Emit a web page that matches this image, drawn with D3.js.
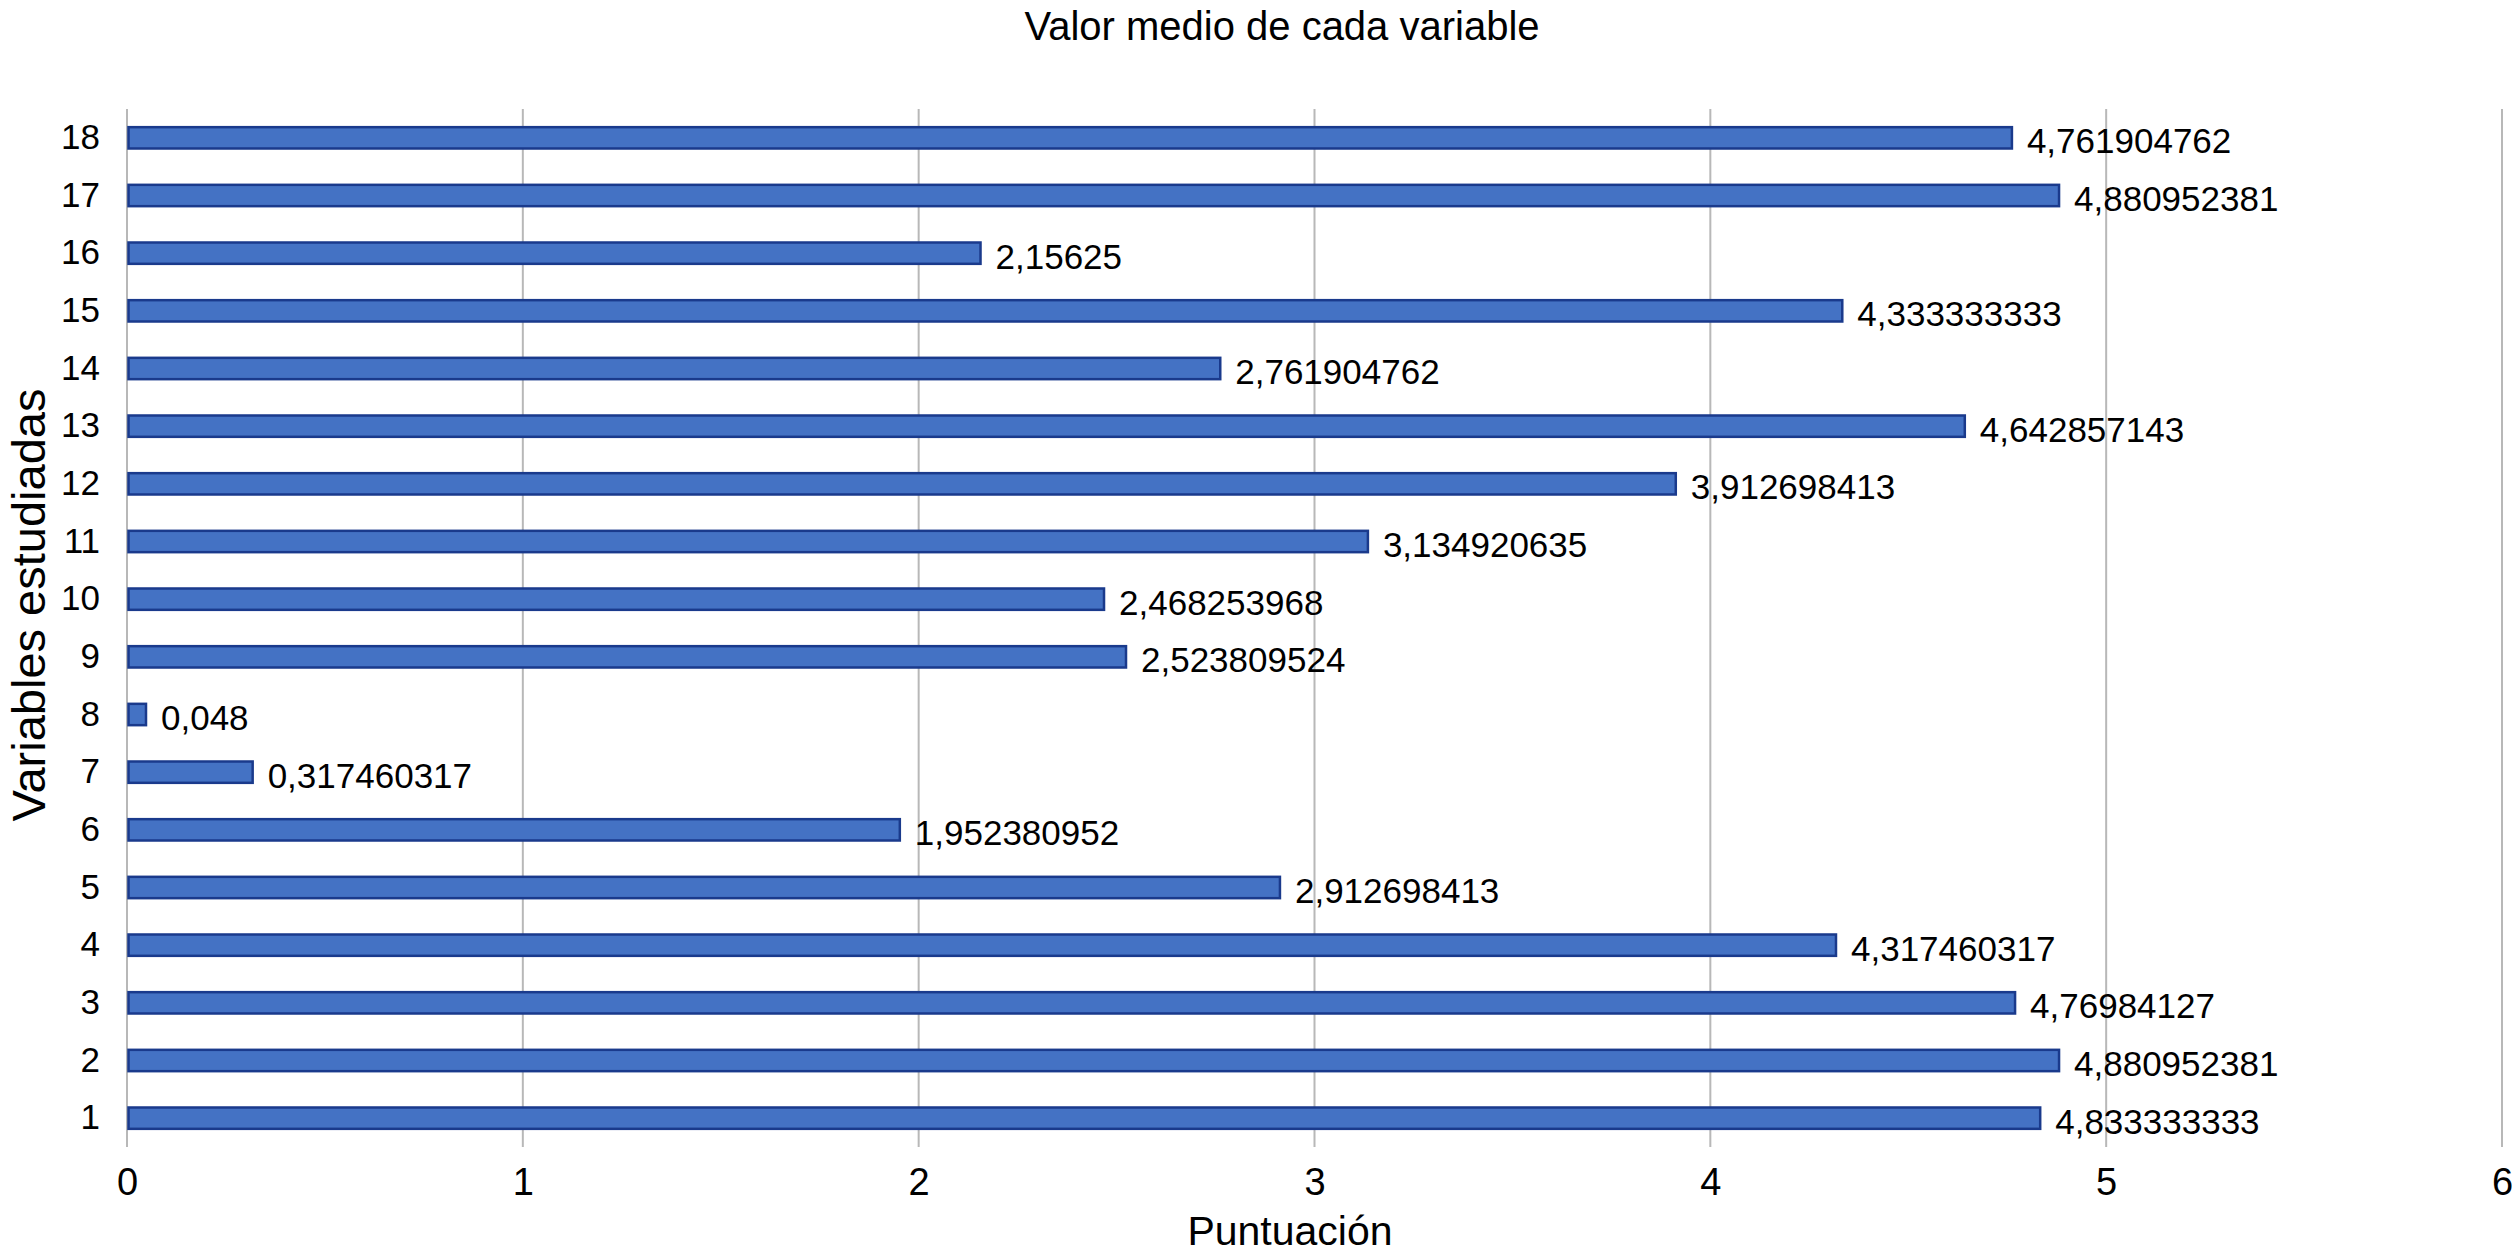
<!DOCTYPE html>
<html>
<head>
<meta charset="utf-8">
<script src="https://cdn.jsdelivr.net/npm/d3@7"></script>
<style>
  body { margin: 0; background: #fff; }
  text { font-family: "Liberation Sans", Arial, sans-serif; fill: #000; }
</style>
</head>
<body>
<script>
// categories (1..18) and mean values
var categories = ["1", "2", "3", "4", "5", "6", "7", "8", "9", "10",
                  "11", "12", "13", "14", "15", "16", "17", "18"];
var values = [4.833333333, 4.880952381, 4.76984127, 4.317460317, 2.912698413,
              1.952380952, 0.317460317, 0.048, 2.523809524, 2.468253968,
              3.134920635, 3.912698413, 4.642857143, 2.761904762, 4.333333333,
              2.15625, 4.880952381, 4.761904762];
var xTicks = [0, 1, 2, 3, 4, 5, 6];

var title = "Valor medio de cada variable";
var xTitle = "Puntuación";
var yTitle = "Variables estudiadas";

function draw() {
    var w = 2512, h = 1254;
    var mLeft = 127, mRight = 2502, mTop = 109, mBottom = 1147;

    var data = categories.map(function (c, i) { return { cat: c, val: values[i] }; });

    var svg = d3.select("body").append("svg")
        .attr("width", w)
        .attr("height", h);

    var x = d3.scaleLinear().domain([0, 6]).range([mLeft, mRight]);

    // 18 at top, 1 at bottom
    var y = d3.scaleBand()
        .domain(categories.slice().reverse())
        .range([mTop, mBottom])
        .paddingInner(0.63)
        .paddingOuter(0.315);

    // vertical grid lines
    svg.append("g")
        .selectAll("line")
        .data(xTicks)
        .enter()
        .append("line")
        .attr("x1", function (d) { return x(d); })
        .attr("x2", function (d) { return x(d); })
        .attr("y1", mTop)
        .attr("y2", mBottom)
        .attr("stroke", "#b8b8b8")
        .attr("stroke-width", 2);

    // bars
    svg.append("g")
        .selectAll("rect")
        .data(data)
        .enter()
        .append("rect")
        .attr("x", x(0) + 1.5)
        .attr("y", function (d) { return y(d.cat); })
        .attr("width", function (d) { return x(d.val) - x(0) - 1.5; })
        .attr("height", y.bandwidth())
        .attr("fill", "#4472c4")
        .attr("stroke", "#1a3a8c")
        .attr("stroke-width", 2.5);

    // value labels
    svg.append("g")
        .selectAll("text")
        .data(data)
        .enter()
        .append("text")
        .attr("x", function (d) { return x(d.val) + 15; })
        .attr("y", function (d) { return y(d.cat) + y.bandwidth() / 2 + 3; })
        .attr("dy", "0.36em")
        .style("font-size", "35px")
        .text(function (d) { return String(d.val).replace(".", ","); });

    // y axis (category labels)
    var gy = svg.append("g")
        .attr("transform", "translate(" + (mLeft - 27) + ",0)")
        .call(d3.axisLeft(y).tickSize(0).tickPadding(0));
    gy.select(".domain").remove();
    gy.selectAll("text")
        .style("font-size", "35px")
        .style("font-family", "Liberation Sans, Arial, sans-serif");

    // x axis (tick labels)
    var gx = svg.append("g")
        .attr("transform", "translate(0,1168)")
        .call(d3.axisBottom(x).tickValues(xTicks).tickSize(0).tickPadding(0)
            .tickFormat(d3.format("d")));
    gx.select(".domain").remove();
    gx.selectAll("text")
        .style("font-size", "38px")
        .style("font-family", "Liberation Sans, Arial, sans-serif");

    // titles
    svg.append("text")
        .attr("x", 1282)
        .attr("y", 40)
        .attr("text-anchor", "middle")
        .style("font-size", "40px")
        .text(title);

    svg.append("text")
        .attr("x", 1290)
        .attr("y", 1245)
        .attr("text-anchor", "middle")
        .style("font-size", "41px")
        .text(xTitle);

    svg.append("text")
        .attr("transform", "translate(45,605) rotate(-90)")
        .attr("text-anchor", "middle")
        .style("font-size", "47px")
        .text(yTitle);
}

draw();
</script>
</body>
</html>
